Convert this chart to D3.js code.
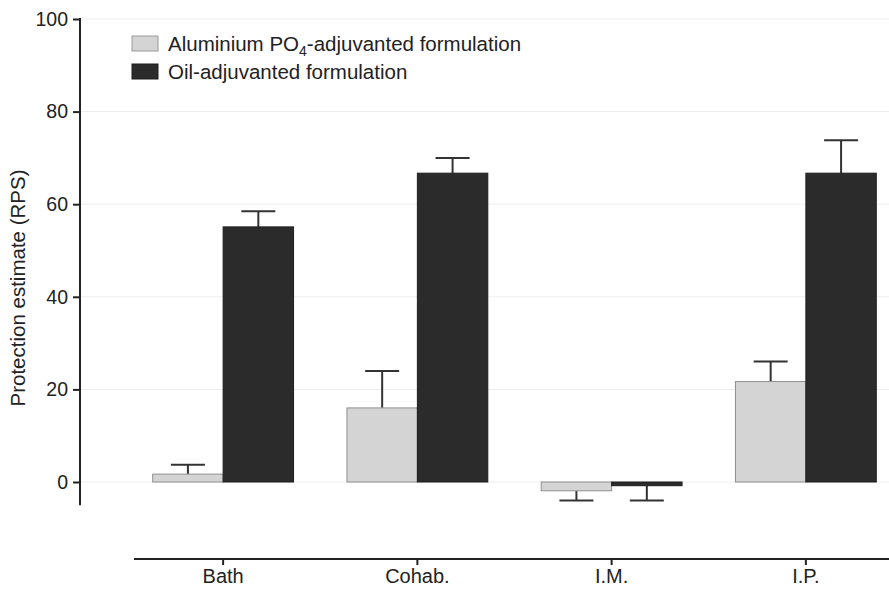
<!DOCTYPE html>
<html>
<head>
<meta charset="utf-8">
<script src="https://cdn.jsdelivr.net/npm/d3@7"></script>
<style>
  body { margin: 0; background: #fff; }
  text { font-family: "Liberation Sans", Arial, sans-serif; fill: #222; }
</style>
</head>
<body>
<svg id="chart" width="889" height="592"></svg>
<script>
`use strict`;

const categories = [`Bath`, `Cohab.`, `I.M.`, `I.P.`];
const seriesNames = [`alum`, `oil`];
const alumValues = [1.7, 16.0, -1.9, 21.7];
const alumErrors = [2.0, 8.0, 2.1, 4.3];
const oilValues = [55.1, 66.7, -0.8, 66.7];
const oilErrors = [3.4, 3.3, 3.2, 7.1];
const yTicks = [0, 20, 40, 60, 80, 100];

(function () {

  const svg = d3.select(`#chart`);

  const x = d3.scaleBand()
    .domain(categories)
    .range([126, 903])
    .paddingInner(0.275)
    .paddingOuter(0.1375);

  const xs = d3.scaleBand()
    .domain(seriesNames)
    .range([0, x.bandwidth()]);

  const y = d3.scaleLinear()
    .domain([0, 100])
    .range([482, 19]);

  // gridlines
  svg.append(`g`).selectAll(`line`).data(yTicks)
    .enter().append(`line`)
    .attr(`x1`, 81).attr(`x2`, 889)
    .attr(`y1`, d => y(d)).attr(`y2`, d => y(d))
    .attr(`stroke`, `#eeeeee`)
    .attr(`stroke-width`, 1);

  // y axis
  let yAxis = svg.append(`g`)
    .attr(`transform`, `translate(80,0)`)
    .call(d3.axisLeft(y).tickValues(yTicks).tickSize(7).tickPadding(5));
  yAxis.select(`.domain`).remove();
  yAxis.append(`line`)
    .attr(`x1`, 0).attr(`x2`, 0)
    .attr(`y1`, y(100) - 1).attr(`y2`, y(-5))
    .attr(`stroke`, `#222`).attr(`stroke-width`, 2);
  yAxis.selectAll(`.tick line`).attr(`stroke`, `#222`).attr(`stroke-width`, 2);
  yAxis.selectAll(`.tick text`).style(`font-size`, `19.5px`).attr(`fill`, `#222`);

  svg.append(`text`)
    .attr(`transform`, `translate(25,288) rotate(-90)`)
    .attr(`text-anchor`, `middle`)
    .style(`font-size`, `20.5px`)
    .text(`Protection estimate (RPS)`);

  // x axis
  let xAxis = svg.append(`g`)
    .attr(`transform`, `translate(0,559)`)
    .call(d3.axisBottom(x).tickSize(6).tickPadding(4));
  xAxis.select(`.domain`).remove();
  xAxis.append(`line`)
    .attr(`x1`, 134).attr(`x2`, 889)
    .attr(`stroke`, `#222`).attr(`stroke-width`, 2);
  xAxis.selectAll(`.tick line`).attr(`stroke`, `#222`).attr(`stroke-width`, 2);
  xAxis.selectAll(`.tick text`).style(`font-size`, `20px`).attr(`fill`, `#222`);

  let series = [
    {key: `alum`, values: alumValues, errors: alumErrors, fill: `#d4d4d4`, stroke: `#8f8f8f`},
    {key: `oil`, values: oilValues, errors: oilErrors, fill: `#2b2b2b`, stroke: `#1e1e1e`}
  ];

  series.forEach(s => {

    let g = svg.append(`g`).attr(`class`, s.key);

    let rows = categories.map((c, i) => ({c: c, v: s.values[i], e: s.errors[i]}));

    // error bars (drawn first, bar covers the stem)
    let cx = d => x(d.c) + xs(s.key) + xs.bandwidth() / 2;
    let tip = d => d.v >= 0 ? d.v + d.e : d.v - d.e;

    g.selectAll(`line.stem`).data(rows)
      .enter().append(`line`)
      .attr(`class`, `stem`)
      .attr(`x1`, cx).attr(`x2`, cx)
      .attr(`y1`, d => y(d.v)).attr(`y2`, d => y(tip(d)))
      .attr(`stroke`, `#333`).attr(`stroke-width`, 2);

    g.selectAll(`line.cap`).data(rows)
      .enter().append(`line`)
      .attr(`class`, `cap`)
      .attr(`x1`, d => cx(d) - 17).attr(`x2`, d => cx(d) + 17)
      .attr(`y1`, d => y(tip(d))).attr(`y2`, d => y(tip(d)))
      .attr(`stroke`, `#333`).attr(`stroke-width`, 2);

    g.selectAll(`rect`).data(rows)
      .enter().append(`rect`)
      .attr(`x`, d => x(d.c) + xs(s.key))
      .attr(`width`, xs.bandwidth())
      .attr(`y`, d => y(Math.max(0, d.v)))
      .attr(`height`, d => Math.abs(y(d.v) - y(0)))
      .attr(`fill`, s.fill)
      .attr(`stroke`, s.stroke)
      .attr(`stroke-width`, 1);
  });

  // legend
  let legend = svg.append(`g`).attr(`transform`, `translate(132,36)`);

  legend.append(`rect`)
    .attr(`x`, 0).attr(`y`, 0).attr(`width`, 26).attr(`height`, 15)
    .attr(`fill`, `#d4d4d4`).attr(`stroke`, `#999`);
  let t1 = legend.append(`text`)
    .attr(`x`, 36).attr(`y`, 15)
    .style(`font-size`, `20.5px`);
  t1.append(`tspan`).text(`Aluminium PO`);
  t1.append(`tspan`).attr(`dy`, 5).style(`font-size`, `14px`).text(`4`);
  t1.append(`tspan`).attr(`dy`, -5).text(`-adjuvanted formulation`);

  legend.append(`rect`)
    .attr(`x`, 0).attr(`y`, 28).attr(`width`, 26).attr(`height`, 15)
    .attr(`fill`, `#2b2b2b`).attr(`stroke`, `#1e1e1e`);
  legend.append(`text`)
    .attr(`x`, 36).attr(`y`, 43)
    .style(`font-size`, `20.5px`)
    .text(`Oil-adjuvanted formulation`);

})();
</script>
</body>
</html>
